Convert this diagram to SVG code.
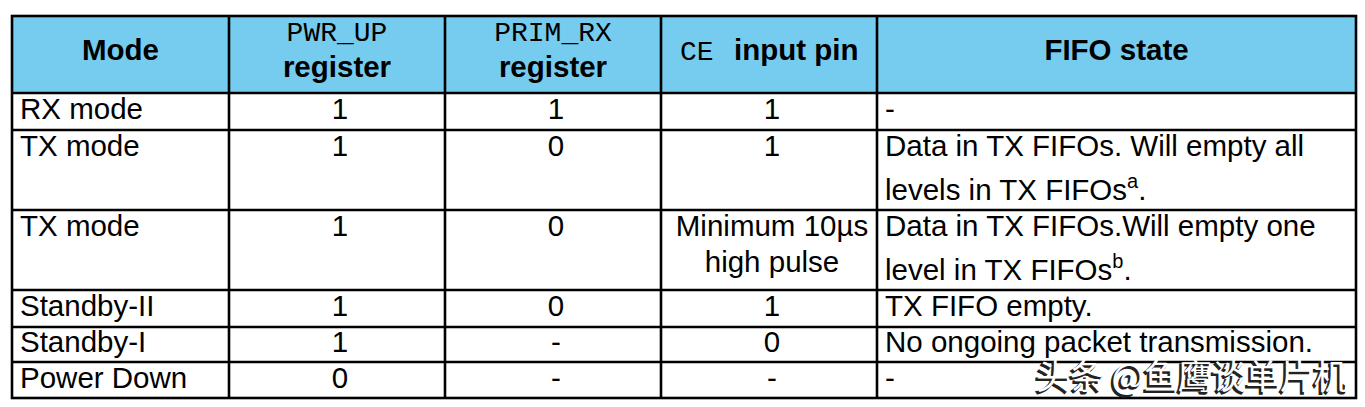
<svg xmlns="http://www.w3.org/2000/svg" width="1365" height="407" viewBox="0 0 1365 407">
<style>
.t{font-family:"Liberation Sans",Arial,sans-serif;font-size:29.5px;fill:#000}
.b{font-weight:bold}
.m{font-family:"Courier New","Liberation Mono",monospace;font-size:28px;fill:#000}
.c{text-anchor:middle}
.sup{font-size:20px}
.g{stroke:#000;stroke-width:2.6;fill:none}
.wm{font-family:"Noto Sans CJK SC",sans-serif;font-size:34px}
</style>
<rect width="1365" height="407" fill="#fff"/>
<g id="header">
<rect x="12" y="16" width="1344" height="77" fill="#76CCEE"/>
<text class="t b c" x="120.5" y="60">Mode</text>
<text class="m c" x="337" y="41">PWR_UP</text>
<text class="t b c" x="337" y="77">register</text>
<text class="m c" x="553" y="41">PRIM_RX</text>
<text class="t b c" x="553" y="77">register</text>
<text class="m" x="680" y="60">CE</text>
<text class="t b" x="734" y="60">input pin</text>
<text class="t b c" x="1116.5" y="60">FIFO state</text>
</g>
<g id="row-rx">
<text class="t" x="20" y="119">RX mode</text>
<text class="t c" x="340" y="119">1</text>
<text class="t c" x="556" y="119">1</text>
<text class="t c" x="772" y="119">1</text>
<text class="t" x="885" y="119">-</text>
</g>
<g id="row-tx1">
<text class="t" x="20" y="156">TX mode</text>
<text class="t c" x="340" y="156">1</text>
<text class="t c" x="556" y="156">0</text>
<text class="t c" x="772" y="156">1</text>
<text class="t" x="885" y="156">Data in TX FIFOs. Will empty all</text>
<text class="t" x="885" y="200">levels in TX FIFOs<tspan class="sup" dy="-12">a</tspan><tspan dy="12">.</tspan></text>
</g>
<g id="row-tx2">
<text class="t" x="20" y="236">TX mode</text>
<text class="t c" x="340" y="236">1</text>
<text class="t c" x="556" y="236">0</text>
<text class="t c" x="772" y="236">Minimum 10µs</text>
<text class="t c" x="772" y="272">high pulse</text>
<text class="t" x="885" y="236">Data in TX FIFOs.Will empty one</text>
<text class="t" x="885" y="280">level in TX FIFOs<tspan class="sup" dy="-12">b</tspan><tspan dy="12">.</tspan></text>
</g>
<g id="row-standby2">
<text class="t" x="20" y="316">Standby-II</text>
<text class="t c" x="340" y="316">1</text>
<text class="t c" x="556" y="316">0</text>
<text class="t c" x="772" y="316">1</text>
<text class="t" x="885" y="316">TX FIFO empty.</text>
</g>
<g id="row-standby1">
<text class="t" x="20" y="352">Standby-I</text>
<text class="t c" x="340" y="352">1</text>
<text class="t c" x="556" y="352">-</text>
<text class="t c" x="772" y="352">0</text>
<text class="t" x="885" y="352">No ongoing packet transmission.</text>
</g>
<g id="row-powerdown">
<text class="t" x="20" y="388">Power Down</text>
<text class="t c" x="340" y="388">0</text>
<text class="t c" x="556" y="388">-</text>
<text class="t c" x="772" y="388">-</text>
<text class="t" x="885" y="388">-</text>
</g>
<g id="grid" class="g">
<rect x="12" y="16" width="1344" height="382"/>
<line x1="229" y1="16" x2="229" y2="398"/>
<line x1="445" y1="16" x2="445" y2="398"/>
<line x1="661" y1="16" x2="661" y2="398"/>
<line x1="877" y1="16" x2="877" y2="398"/>
<line x1="12" y1="93" x2="1356" y2="93"/>
<line x1="12" y1="130" x2="1356" y2="130"/>
<line x1="12" y1="210" x2="1356" y2="210"/>
<line x1="12" y1="290" x2="1356" y2="290"/>
<line x1="12" y1="327" x2="1356" y2="327"/>
<line x1="12" y1="362" x2="1356" y2="362"/>
</g>
<g id="watermark">
<text class="wm" x="1034" y="391" fill="#222" stroke="#222" stroke-width="1.2">头条 @鱼鹰谈单片机</text>
<text class="wm" x="1036" y="389" fill="#fff">头条 @鱼鹰谈单片机</text>
</g>
</svg>
